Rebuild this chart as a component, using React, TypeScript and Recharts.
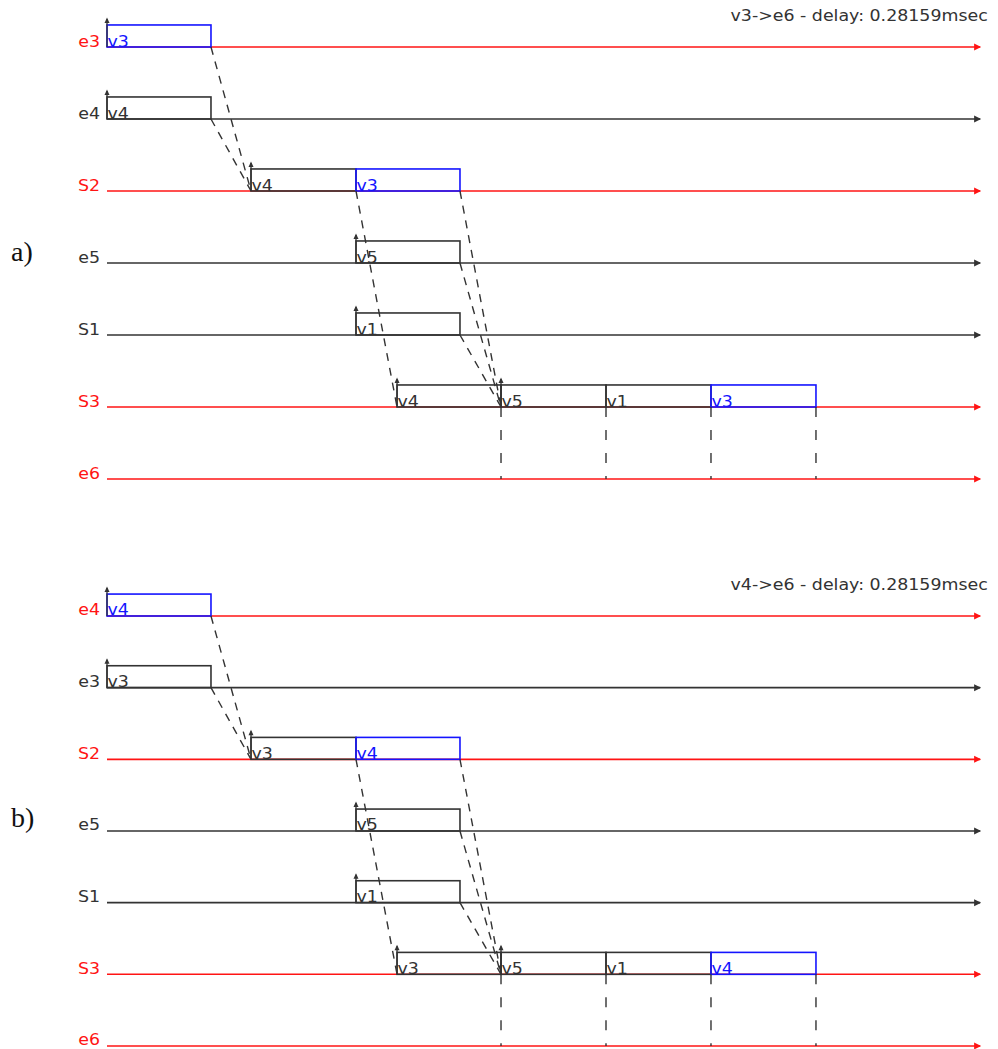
import { ComposedChart, XAxis, YAxis, ReferenceLine, ReferenceArea, Scatter } from "recharts";

// rows of each diagram, top to bottom
const ROWS_A = ["e3", "e4", "S2", "e5", "S1", "S3", "e6"];
const ROWS_B = ["e4", "e3", "S2", "e5", "S1", "S3", "e6"];
// rows on the path of the observed flow (drawn red)
const PATH_A = ["e3", "S2", "S3", "e6"];
const PATH_B = ["e4", "S2", "S3", "e6"];
const FLOW_A = "v3";
const FLOW_B = "v4";
const TITLE_A = "v3->e6 - delay: 0.28159msec";
const TITLE_B = "v4->e6 - delay: 0.28159msec";

// frames in the queues (times in µs)
const BOX_ROWS_A = ["e3", "e4", "S2", "S2", "e5", "S1", "S3", "S3", "S3", "S3"];
const BOX_ROWS_B = ["e4", "e3", "S2", "S2", "e5", "S1", "S3", "S3", "S3", "S3"];
const BOX_LABELS_A = ["v3", "v4", "v4", "v3", "v5", "v1", "v4", "v5", "v1", "v3"];
const BOX_LABELS_B = ["v4", "v3", "v3", "v4", "v5", "v1", "v3", "v5", "v1", "v4"];
const BOX_START = [0, 0, 57.2, 98.9, 98.9, 98.9, 115.2, 156.5, 198.2, 239.9];
const BOX_END = [41.3, 41.3, 98.9, 140.2, 140.2, 140.2, 156.5, 198.2, 239.9, 281.6];
const BOX_ARRIVAL = [true, true, true, false, true, true, true, true, false, false];

// dashed hops: end of frame [0] -> start of frame [1] (box indices)
const HOPS = [[0, 2], [1, 2], [2, 6], [3, 7], [4, 7], [5, 7]];

const OUT_ROW = "S3";
const SINK_ROW = "e6";

const T_MAX = 353.9;
const LINE_END = 346.8;
const AXIS_W = 107;
const BOX_H = 0.306;
const RED = "#ff1414";
const BLUE = "#1414ff";
const DARK = "#333333";
const FONT = "DejaVu Sans";
const FS = 15;
const STRETCH = 1.16;

type PanelProps = {
  rows: string[];
  path: string[];
  flow: string;
  boxRows: string[];
  labels: string[];
  title: string;
  height: number;
  yDomain: [number, number];
};

function Panel({ rows, path, flow, boxRows, labels, title, height, yDomain }: PanelProps) {
  const rowOf = (i: number) => rows.indexOf(boxRows[i]);
  const arrivals = BOX_START.map((t, i) => ({ t, r: rowOf(i), on: BOX_ARRIVAL[i] })).filter((d) => d.on);
  const outIdx = rows.indexOf(OUT_ROW);
  const sinkIdx = rows.indexOf(SINK_ROW);

  const RowTick = (p: any) => {
    const name = rows[p.payload.value];
    return (
      <text
        transform={`translate(${AXIS_W - 7},${p.y - 0.5}) scale(${STRETCH},1)`}
        textAnchor="end"
        fontSize={FS}
        fontFamily={FONT}
        fill={path.includes(name) ? RED : DARK}
      >
        {name}
      </text>
    );
  };

  return (
    <div style={{ position: "relative", width: 998, height }}>
      <ComposedChart width={998} height={height} margin={{ top: 0, right: 0, bottom: 0, left: 0 }}>
        <XAxis type="number" dataKey="t" domain={[0, T_MAX]} hide />
        <YAxis
          type="number"
          dataKey="r"
          reversed
          domain={yDomain}
          ticks={rows.map((_, i) => i)}
          interval={0}
          width={AXIS_W}
          axisLine={false}
          tickLine={false}
          tick={RowTick}
        />
        {rows.map((name, i) => {
          const color = path.includes(name) ? RED : DARK;
          return (
            <ReferenceLine
              key={"row" + name}
              zIndex={50}
              segment={[{ x: 0, y: i }, { x: LINE_END, y: i }]}
              shape={(p: any) => (
                <g>
                  <line x1={p.x1} y1={p.y1} x2={p.x2} y2={p.y2} stroke={color} strokeWidth={1.6} />
                  <polygon points={`${p.x2 - 6},${p.y2 - 3.5} ${p.x2 - 6},${p.y2 + 3.5} ${p.x2 + 1},${p.y2}`} fill={color} />
                </g>
              )}
            />
          );
        })}
        {BOX_START.map((t, i) => {
          const color = labels[i] === flow ? BLUE : DARK;
          const r = rowOf(i);
          return (
            <ReferenceArea
              key={"box" + i}
              zIndex={150}
              x1={t}
              x2={BOX_END[i]}
              y1={r - BOX_H}
              y2={r}
              shape={(p: any) => (
                <g>
                  <rect x={p.x} y={p.y} width={p.width} height={p.height} fill="none" stroke={color} strokeWidth={1.6} />
                  <text
                    transform={`translate(${p.x + 0.5},${p.y + p.height - 0.5}) scale(${STRETCH},1)`}
                    fontSize={FS}
                    fontFamily={FONT}
                    fill={color}
                  >
                    {labels[i]}
                  </text>
                </g>
              )}
            />
          );
        })}
        {HOPS.map(([a, b], k) => (
          <ReferenceLine
            key={"hop" + k}
            zIndex={450}
            segment={[{ x: BOX_END[a], y: rowOf(a) }, { x: BOX_START[b], y: rowOf(b) }]}
            stroke={DARK}
            strokeWidth={1.4}
            strokeDasharray="8 7"
          />
        ))}
        {BOX_END.map((t, i) =>
          boxRows[i] === OUT_ROW ? (
            <ReferenceLine
              key={"out" + i}
              zIndex={450}
              segment={[{ x: t, y: outIdx }, { x: t, y: sinkIdx }]}
              stroke={DARK}
              strokeWidth={1.4}
              strokeDasharray="10 13"
            />
          ) : null
        )}
        <Scatter
          data={arrivals}
          zIndex={600}
          isAnimationActive={false}
          shape={(p: any) => (
            <g>
              <line x1={p.cx} y1={p.cy} x2={p.cx} y2={p.cy - 28} stroke={DARK} strokeWidth={1.3} />
              <polygon points={`${p.cx - 2.5},${p.cy - 24} ${p.cx + 2.5},${p.cy - 24} ${p.cx},${p.cy - 29.5}`} fill={DARK} />
            </g>
          )}
        />
      </ComposedChart>
      <div
        style={{
          position: "absolute",
          right: 10,
          top: 9,
          fontFamily: FONT,
          fontSize: FS,
          lineHeight: 1,
          color: DARK,
          whiteSpace: "nowrap",
          transform: `scaleX(${STRETCH})`,
          transformOrigin: "right center",
        }}
      >
        {title}
      </div>
    </div>
  );
}

export default function App() {
  const tag = { position: "absolute" as const, left: 11, fontFamily: "Liberation Serif", fontSize: 28, lineHeight: 1, color: "#111" };
  return (
    <div style={{ position: "relative", width: 998, height: 1049, background: "#fff" }}>
      <style>{`body{margin:0}`}</style>
      <Panel rows={ROWS_A} path={PATH_A} flow={FLOW_A} boxRows={BOX_ROWS_A} labels={BOX_LABELS_A} title={TITLE_A} height={569} yDomain={[-0.6528, 7.25]} />
      <Panel rows={ROWS_B} path={PATH_B} flow={FLOW_B} boxRows={BOX_ROWS_B} labels={BOX_LABELS_B} title={TITLE_B} height={480} yDomain={[-0.6558, 6.042]} />
      <div style={{ ...tag, top: 238 }}>a)</div>
      <div style={{ ...tag, top: 804 }}>b)</div>
    </div>
  );
}
